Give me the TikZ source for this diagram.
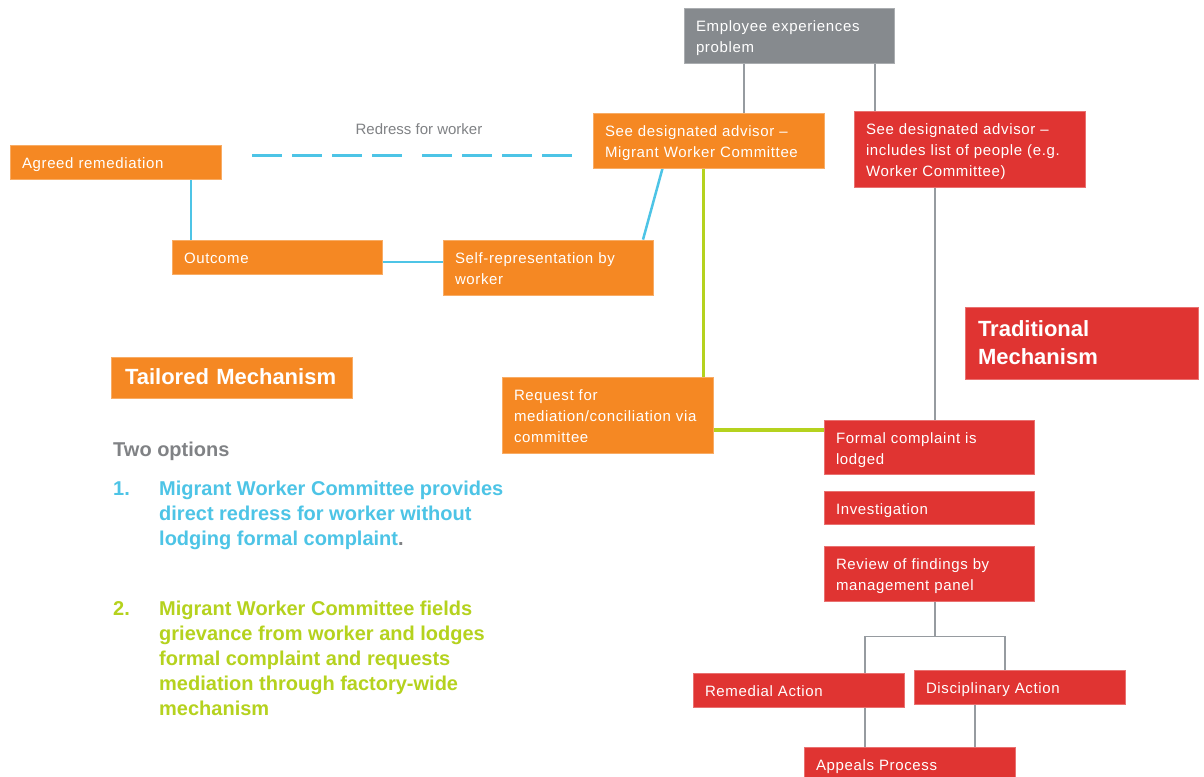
\documentclass[tikz,border=0pt]{standalone}
\usepackage{fontspec}
\setmainfont{Liberation Sans}
\newfontfamily\boxfont[LetterSpace=4.3]{Liberation Sans}
\usetikzlibrary{backgrounds}
\definecolor{cOrange}{RGB}{245,136,35}
\definecolor{cRed}{RGB}{224,52,50}
\definecolor{cGrayBox}{RGB}{134,138,142}
\definecolor{cCyan}{RGB}{77,196,230}
\definecolor{cGreen}{RGB}{181,210,30}
\definecolor{cLine}{RGB}{150,155,160}
\definecolor{cText}{RGB}{128,130,133}
\begin{document}
\begin{tikzpicture}[x=1pt,y=-1pt,
  box/.style={rectangle, inner xsep=12pt, inner ysep=0pt, text=white, align=left, font=\boxfont\fontsize{15}{21}\selectfont, line width=0.8pt,
    execute at begin node={\rule{0pt}{16.5pt}}, execute at end node={\rule[-3.3pt]{0pt}{3.3pt}}},
  obox/.style={box, fill=cOrange, draw=cOrange!70!white},
  rbox/.style={box, fill=cRed, draw=cRed!70!white},
  gbox/.style={box, fill=cGrayBox, draw=cGrayBox!70!white},
  greyline/.style={draw=cLine, line width=1.5pt},
  cyanline/.style={draw=cCyan, line width=2.5pt},
  greenline/.style={draw=cGreen, line width=3.5pt},
  titletext/.style={font=\bfseries\fontsize{22}{28}\selectfont, text=white, align=left,
    execute at begin node={}, execute at end node={}},
  listtext/.style={font=\bfseries\fontsize{20}{25}\selectfont, anchor=base west, inner sep=0pt}
]
\useasboundingbox (0,0) rectangle (1204,776);

% boxes
\node[gbox, text width=186pt, minimum height=55pt] (emp) at (789,35.5) {Employee experiences\\problem};
\node[obox, text width=207pt, minimum height=55pt] (oadv) at (708.5,140.5) {See designated advisor –\\Migrant Worker Committee};
\node[rbox, text width=207pt, minimum height=76pt] (radv) at (969.5,149) {See designated advisor –\\includes list of people (e.g.\\Worker Committee)};
\node[obox, text width=187pt, minimum height=34pt] (agreed) at (115.5,162) {Agreed remediation};
\node[obox, text width=186pt, minimum height=34pt] (outcome) at (277,257) {Outcome};
\node[obox, text width=186pt, minimum height=55pt] (selfrep) at (548,267.5) {Self-representation by\\worker};
\node[obox, titletext, inner xsep=14pt, text width=213pt, minimum height=41pt] (tailored) at (231.5,377.5) {Tailored Mechanism};
\node[rbox, titletext, inner xsep=13pt, text width=207pt, minimum height=72pt] (trad) at (1081.5,343.5) {Traditional\\Mechanism};
\node[obox, text width=187pt, minimum height=76pt] (request) at (607.5,415) {Request for\\mediation/conciliation via\\committee};
\node[rbox, text width=186pt, minimum height=54pt] (formal) at (929,447) {Formal complaint is\\lodged};
\node[rbox, text width=186pt, minimum height=33pt] (invest) at (929,507.5) {Investigation};
\node[rbox, text width=186pt, minimum height=55pt] (review) at (929,573.5) {Review of findings by\\management panel};
\node[rbox, text width=187pt, minimum height=34pt] (remedial) at (798.5,690) {Remedial Action};
\node[rbox, text width=187pt, minimum height=34pt] (disc) at (1019.5,687) {Disciplinary Action};
\node[rbox, text width=187pt, minimum height=34pt] (appeals) at (909.5,764) {Appeals Process};

% free texts
\node[font=\fontsize{15}{18}\selectfont, text=cText] (redress) at (419,129) {Redress for worker};
\node[listtext, text=cText] (two) at (113,456) {Two options};
\node[listtext, text=cCyan] (n1) at (113,495) {1.};
\node[listtext, text=cCyan] (opt1) at (159,495) {\begin{tabular}[t]{@{}l@{}}Migrant Worker Committee provides\\direct redress for worker without\\lodging formal complaint\textcolor{cText}{.}\end{tabular}};
\node[listtext, text=cGreen] (n2) at (113,615) {2.};
\node[listtext, text=cGreen] (opt2) at (159,615) {\begin{tabular}[t]{@{}l@{}}Migrant Worker Committee fields\\grievance from worker and lodges\\formal complaint and requests\\mediation through factory-wide\\mechanism\end{tabular}};

% connectors
\begin{scope}[on background layer]
\fill[white] (0,0) rectangle (1204,776);
\draw[greyline] ([xshift=-45pt]emp.south) -- ([xshift=-45pt]emp.south |- oadv.north);
\draw[greyline] ([xshift=86pt]emp.south) -- ([xshift=86pt]emp.south |- radv.north);
\draw[greyline] ([xshift=-34.5pt]radv.south) -- ([xshift=-34.5pt]radv.south |- formal.north);
\coordinate (split) at ([xshift=6pt,yshift=-35pt]review.south);
\draw[greyline] ([xshift=6pt]review.south) -- (split);
\draw[greyline] ([xshift=66.5pt]remedial.north) |- (split) -| ([xshift=-14.5pt]disc.north);
\draw[greyline] ([xshift=66.5pt]remedial.south) -- ([xshift=66.5pt]remedial.south |- appeals.north);
\draw[greyline] ([xshift=-44.5pt]disc.south) -- ([xshift=-44.5pt]disc.south |- appeals.north);
\draw[cyanline] ([xshift=-46pt]oadv.south) -- ([xshift=95pt]selfrep.north);
\draw[cyanline] ([yshift=-5pt]outcome.east) -- ([yshift=-5pt]outcome.east -| selfrep.west);
\draw[cyanline] ([xshift=-86pt]outcome.north) -- ([xshift=-86pt]outcome.north |- agreed.south);
\draw[greenline] ([xshift=-5pt]oadv.south) -- ([xshift=-5pt]oadv.south |- request.north);
\draw[greenline] ([yshift=-15pt]request.east) -- ([yshift=-15pt]request.east -| formal.west);
\coordinate (dA) at (252,155.5);
\coordinate (dB) at (572,155.5);
\draw[cCyan, line width=3pt, dash pattern=on 30pt off 10pt on 30pt off 10pt on 30pt off 10pt on 30pt off 20pt on 30pt off 10pt on 30pt off 10pt on 30pt off 10pt on 30pt off 10pt] (dA) -- (dB);
\end{scope}
\end{tikzpicture}
\end{document}
